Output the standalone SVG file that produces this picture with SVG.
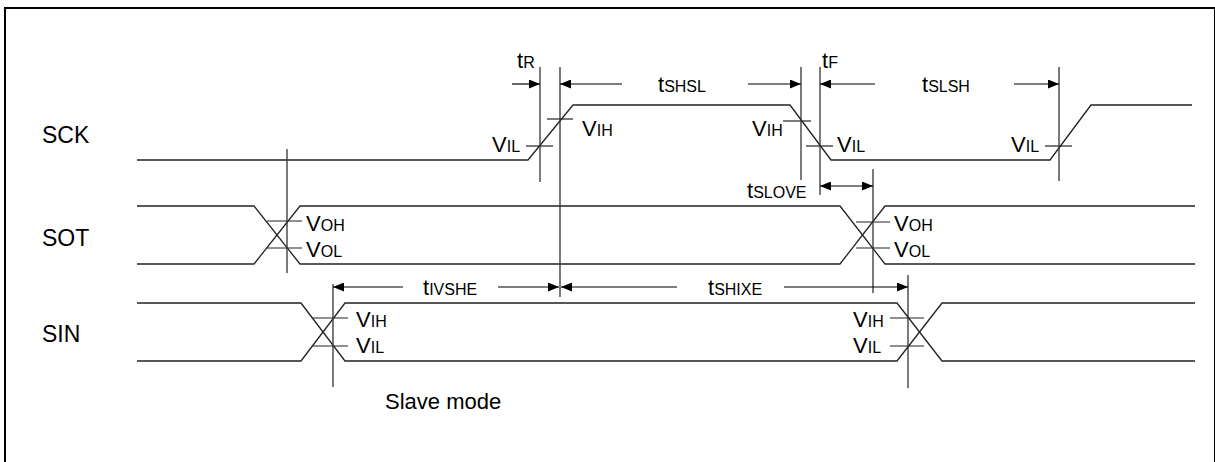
<svg xmlns="http://www.w3.org/2000/svg" width="1215" height="462" viewBox="0 0 1215 462">
<defs>
<marker id="ah" markerWidth="11" markerHeight="9" refX="11" refY="4.5" orient="auto-start-reverse" markerUnits="userSpaceOnUse">
<path d="M0,0 L11,4.5 L0,9 Z" fill="#000"/>
</marker>
<style>
.sig{fill:none;stroke:#222;stroke-width:1.3}
.ref{fill:none;stroke:#333;stroke-width:1.3}
.tick{fill:none;stroke:#222;stroke-width:1.2}
.arr{fill:none;stroke:#000;stroke-width:1.2;marker-end:url(#ah)}
.arr2{fill:none;stroke:#000;stroke-width:1.2;marker-end:url(#ah);marker-start:url(#ah)}
text{font-family:"Liberation Sans",Arial,sans-serif;fill:#000}
.lbl{font-size:23px}
.cap{font-size:22px}
.m{font-size:22px}
.s{font-size:16px}
</style>
</defs>
<rect x="5" y="8" width="1210" height="456" fill="#fff" stroke="#000" stroke-width="2"/>

<g id="sck">
<text class="lbl" x="42" y="143">SCK</text>
<polyline class="sig" points="137,160 528,160 573,105 790,105 831,160 1050,160 1091,105 1192,105"/>
<line class="tick" x1="526" y1="146" x2="553" y2="146"/>
<line class="tick" x1="547" y1="119" x2="573" y2="119"/>
<line class="tick" x1="783" y1="121" x2="811" y2="121"/>
<line class="tick" x1="806" y1="146" x2="833" y2="146"/>
<line class="tick" x1="1045" y1="146" x2="1072" y2="146"/>
<text x="492" y="152"><tspan class="m">V</tspan><tspan class="s">IL</tspan></text>
<text x="582" y="136"><tspan class="m">V</tspan><tspan class="s">IH</tspan></text>
<text x="752" y="136"><tspan class="m">V</tspan><tspan class="s">IH</tspan></text>
<text x="837" y="152"><tspan class="m">V</tspan><tspan class="s">IL</tspan></text>
<text x="1011" y="152"><tspan class="m">V</tspan><tspan class="s">IL</tspan></text>
</g>

<g id="sot">
<text class="lbl" x="42" y="246">SOT</text>
<polyline class="sig" points="137,206 254,206 300,264 840,264 885,206 1195,206"/>
<polyline class="sig" points="137,264 254,264 300,206 840,206 885,264 1195,264"/>
<line class="tick" x1="267" y1="221" x2="302" y2="221"/>
<line class="tick" x1="267" y1="248" x2="302" y2="248"/>
<line class="tick" x1="856" y1="222" x2="890" y2="222"/>
<line class="tick" x1="856" y1="248" x2="890" y2="248"/>
<text x="306" y="231"><tspan class="m">V</tspan><tspan class="s">OH</tspan></text>
<text x="306" y="257"><tspan class="m">V</tspan><tspan class="s">OL</tspan></text>
<text x="894" y="231"><tspan class="m">V</tspan><tspan class="s">OH</tspan></text>
<text x="894" y="257"><tspan class="m">V</tspan><tspan class="s">OL</tspan></text>
</g>

<g id="sin">
<text class="lbl" x="42" y="342">SIN</text>
<polyline class="sig" points="137,303 301,303 345,361 897,361 942,303 1195,303"/>
<polyline class="sig" points="137,361 301,361 345,303 897,303 942,361 1195,361"/>
<line class="tick" x1="313" y1="318" x2="348" y2="318"/>
<line class="tick" x1="313" y1="346" x2="348" y2="346"/>
<line class="tick" x1="890" y1="318" x2="924" y2="318"/>
<line class="tick" x1="890" y1="346" x2="924" y2="346"/>
<text x="356" y="327"><tspan class="m">V</tspan><tspan class="s">IH</tspan></text>
<text x="356" y="353"><tspan class="m">V</tspan><tspan class="s">IL</tspan></text>
<text x="853" y="327"><tspan class="m">V</tspan><tspan class="s">IH</tspan></text>
<text x="853" y="353"><tspan class="m">V</tspan><tspan class="s">IL</tspan></text>
</g>

<g id="connectors">
<line class="ref" x1="540" y1="67" x2="540" y2="182"/>
<line class="ref" x1="560" y1="67" x2="560" y2="297"/>
<line class="ref" x1="801" y1="67" x2="801" y2="180"/>
<line class="ref" x1="820" y1="67" x2="820" y2="195"/>
<line class="ref" x1="1059" y1="67" x2="1059" y2="181"/>
<line class="ref" x1="873" y1="169" x2="873" y2="293"/>
<line class="ref" x1="287" y1="149" x2="287" y2="273"/>
<line class="ref" x1="333" y1="284" x2="333" y2="387"/>
<line class="ref" x1="908" y1="275" x2="908" y2="388"/>

<line class="arr" x1="512" y1="84" x2="540" y2="84"/>
<line class="arr" x1="622" y1="84" x2="560" y2="84"/>
<line class="arr" x1="748" y1="84" x2="801" y2="84"/>
<line class="arr" x1="875" y1="84" x2="820" y2="84"/>
<line class="arr" x1="1014" y1="84" x2="1059" y2="84"/>
<line class="arr2" x1="820" y1="186" x2="873" y2="186"/>
<line class="arr" x1="403" y1="287" x2="333" y2="287"/>
<line class="arr" x1="498" y1="287" x2="559" y2="287"/>
<line class="arr" x1="677" y1="287" x2="561" y2="287"/>
<line class="arr" x1="784" y1="287" x2="908" y2="287"/>
</g>

<g id="timing-labels">
<text x="517" y="68"><tspan class="m">t</tspan><tspan class="s">R</tspan></text>
<text x="822" y="68"><tspan class="m">t</tspan><tspan class="s">F</tspan></text>
<text x="658" y="92"><tspan class="m">t</tspan><tspan class="s">SHSL</tspan></text>
<text x="922" y="92"><tspan class="m">t</tspan><tspan class="s">SLSH</tspan></text>
<text x="747" y="198"><tspan class="m">t</tspan><tspan class="s">SLOVE</tspan></text>
<text x="423" y="295"><tspan class="m">t</tspan><tspan class="s">IVSHE</tspan></text>
<text x="708" y="295"><tspan class="m">t</tspan><tspan class="s">SHIXE</tspan></text>
</g>

<g id="caption">
<text class="cap" x="385" y="409">Slave mode</text>
</g>
</svg>
